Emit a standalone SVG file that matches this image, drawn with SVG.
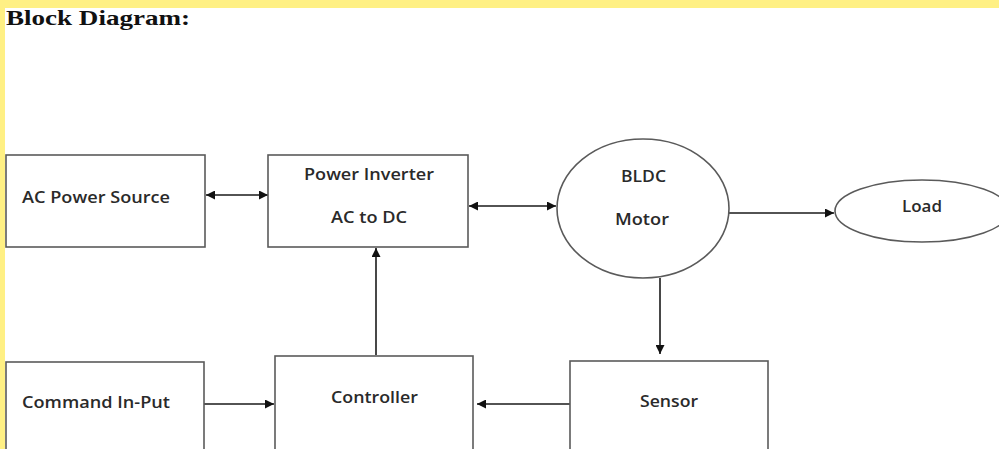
<svg xmlns="http://www.w3.org/2000/svg" width="999" height="449" viewBox="0 0 999 449">
<style>
.box{fill:#fff;stroke:#5a5a5a;stroke-width:1.6}
.lbl{font-family:"Open Sans","Liberation Sans",sans-serif;font-size:15.5px;font-weight:600;fill:#2a2a2a}
.con{stroke:#1a1a1a;stroke-width:1.6;fill:none}
</style>
<defs>
<marker id="ah" viewBox="0 0 10 10" refX="10" refY="5" markerWidth="9" markerHeight="9" markerUnits="userSpaceOnUse" orient="auto-start-reverse">
<path d="M0,0 L10,5 L0,10 z" fill="#111"/>
</marker>
</defs>
<rect x="0" y="0" width="999" height="449" fill="#fff"/>
<rect x="0" y="0" width="999" height="8" fill="#FFF084"/>
<rect x="0" y="0" width="5" height="449" fill="#FFF084"/>
<text x="6" y="25" font-family="'Liberation Serif',serif" font-weight="bold" font-size="22" fill="#111" textLength="184" lengthAdjust="spacingAndGlyphs">Block Diagram:</text>

<g id="connectors">
<line class="con" x1="206" y1="195" x2="268" y2="195" marker-start="url(#ah)" marker-end="url(#ah)"/>
<line class="con" x1="469" y1="206" x2="556" y2="206" marker-start="url(#ah)" marker-end="url(#ah)"/>
<line class="con" x1="729" y1="213" x2="834" y2="213" marker-end="url(#ah)"/>
<line class="con" x1="660" y1="278" x2="660" y2="354" marker-end="url(#ah)"/>
<line class="con" x1="570" y1="404" x2="477" y2="404" marker-end="url(#ah)"/>
<line class="con" x1="204" y1="404" x2="274" y2="404" marker-end="url(#ah)"/>
<line class="con" x1="376" y1="355" x2="376" y2="248" marker-end="url(#ah)"/>
</g>

<g id="ac-power-source">
<rect class="box" x="6" y="155" width="199" height="92"/>
<text class="lbl" x="22" y="203" textLength="148" lengthAdjust="spacingAndGlyphs">AC Power Source</text>
</g>
<g id="power-inverter">
<rect class="box" x="268" y="155" width="200" height="92"/>
<text class="lbl" x="304" y="180" textLength="130" lengthAdjust="spacingAndGlyphs">Power Inverter</text>
<text class="lbl" x="331" y="223" textLength="76" lengthAdjust="spacingAndGlyphs">AC to DC</text>
</g>
<g id="bldc-motor">
<ellipse class="box" cx="643" cy="208.5" rx="86" ry="69.5"/>
<text class="lbl" x="621" y="182" textLength="45" lengthAdjust="spacingAndGlyphs">BLDC</text>
<text class="lbl" x="615" y="225" textLength="54" lengthAdjust="spacingAndGlyphs">Motor</text>
</g>
<g id="load">
<ellipse class="box" cx="922" cy="211" rx="87" ry="31"/>
<text class="lbl" x="902" y="212" textLength="40" lengthAdjust="spacingAndGlyphs">Load</text>
</g>
<g id="command-input">
<rect class="box" x="6" y="362" width="198" height="100"/>
<text class="lbl" x="22" y="408" textLength="148" lengthAdjust="spacingAndGlyphs">Command In-Put</text>
</g>
<g id="controller">
<rect class="box" x="275" y="356" width="198" height="100"/>
<text class="lbl" x="331" y="403" textLength="87" lengthAdjust="spacingAndGlyphs">Controller</text>
</g>
<g id="sensor">
<rect class="box" x="570" y="361" width="198" height="100"/>
<text class="lbl" x="640" y="407" textLength="58" lengthAdjust="spacingAndGlyphs">Sensor</text>
</g>
</svg>
